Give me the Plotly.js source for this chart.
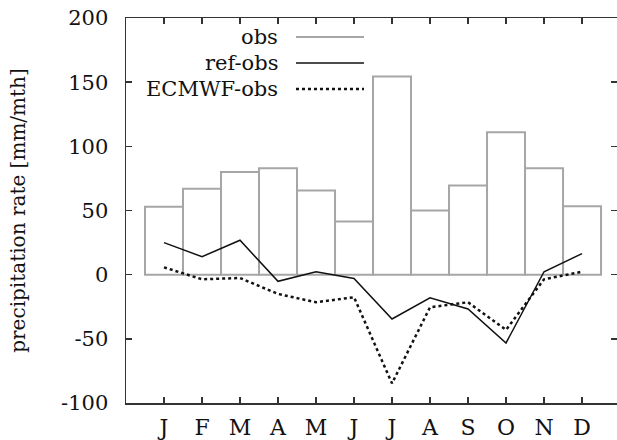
<!DOCTYPE html>
<html>
<head>
<meta charset="utf-8">
<script src="https://cdn.plot.ly/plotly-3.0.1.min.js"></script>
<style>html,body{margin:0;padding:0;background:#fff;overflow:hidden}#chart{width:617px;height:440px}</style>
</head>
<body>
<div id="chart"></div>
<script>
var months = ["J","F","M","A","M","J","J","A","S","O","N","D"];
var monthPos = [1,2,3,4,5,6,7,8,9,10,11,12];
var obs = [53, 67, 80, 83, 65.5, 41.5, 154.5, 50, 69.5, 111, 83, 53.3];
var refObs = [25, 14, 26.8, -5.2, 2.3, -3, -34.5, -18, -26.7, -53.2, 2.3, 16.4];
var ecmwfObs = [5.7, -3.6, -2.6, -15, -21.5, -17.6, -84.7, -25.4, -21.5, -43, -3.6, 2.3];
var seriesNames = ["obs", "ref-obs", "ECMWF-obs"];
var yTicks = [-100, -50, 0, 50, 100, 150, 200];
var yTickLabels = ["-100", "-50", "0", "50", "100", "150", "200"];

var fontFam = "DejaVu Serif";
var traces = [
  {type:"bar", x:monthPos, y:obs, width:1, name:seriesNames[0], showlegend:false,
   marker:{color:"rgba(255,255,255,0)", line:{color:"#a6a6a6", width:2}}},
  {type:"scatter", mode:"lines", x:monthPos, y:refObs, name:seriesNames[1], showlegend:false,
   line:{color:"#111", width:1.5}},
  {type:"scatter", mode:"lines", x:monthPos, y:ecmwfObs, name:seriesNames[2], showlegend:false,
   line:{color:"#111", width:2.5, dash:"dot"}},
  {type:"scatter", mode:"lines", x:[], y:[], yaxis:"y2", showlegend:false, hoverinfo:"skip"}
];

var legY = [0.9506, 0.8831, 0.8156];
var legStyles = [{color:"#a6a6a6", width:2}, {color:"#111", width:1.5}, {color:"#111", width:2.5, dash:"dot"}];
var annotations = [], shapes = [];
for (var i = 0; i < 3; i++) {
  annotations.push({xref:"paper", yref:"paper", x:0.3136, y:legY[i], xanchor:"right", yanchor:"middle",
    text:seriesNames[i], showarrow:false, font:{family:fontFam, size:21, color:"#111"}});
  shapes.push({type:"line", xref:"paper", yref:"paper", x0:0.3462, x1:0.4847, y0:legY[i], y1:legY[i], line:legStyles[i]});
}

var layout = {
  width:617, height:440,
  margin:{l:126, r:0, t:18, b:37},
  paper_bgcolor:"#fff", plot_bgcolor:"#fff",
  font:{family:fontFam, size:21, color:"#111"},
  showlegend:false,
  bargap:0,
  xaxis:{range:[0, 12.92], tickvals:monthPos, ticktext:months, ticks:"inside", ticklen:6, tickwidth:1.5,
    tickcolor:"#333", showline:true, linecolor:"#333", linewidth:1.5, mirror:"ticks", showgrid:false,
    zeroline:false, fixedrange:true, ticklabelstandoff:4, tickfont:{family:fontFam, size:22}},
  yaxis:{range:[-100, 200], tickvals:yTicks, ticktext:yTickLabels, ticks:"inside", ticklen:6, tickwidth:1.5, tickcolor:"#333",
    showline:true, linecolor:"#333", linewidth:1.5, showgrid:false, zeroline:false,
    ticklabelstandoff:12, tickfont:{family:fontFam, size:21},
    title:{text:"precipitation rate [mm/mth]", font:{family:fontFam, size:20, color:"#111"}, standoff:30}},
  yaxis2:{overlaying:"y", side:"right", anchor:"x", range:[-100, 200], tickvals:yTicks, ticks:"inside",
    ticklen:6, tickwidth:1.5, tickcolor:"#333", showticklabels:false, showline:false, showgrid:false, zeroline:false},
  annotations:annotations,
  shapes:shapes
};
Plotly.newPlot("chart", traces, layout, {staticPlot:true, displayModeBar:false});
</script>
</body>
</html>
